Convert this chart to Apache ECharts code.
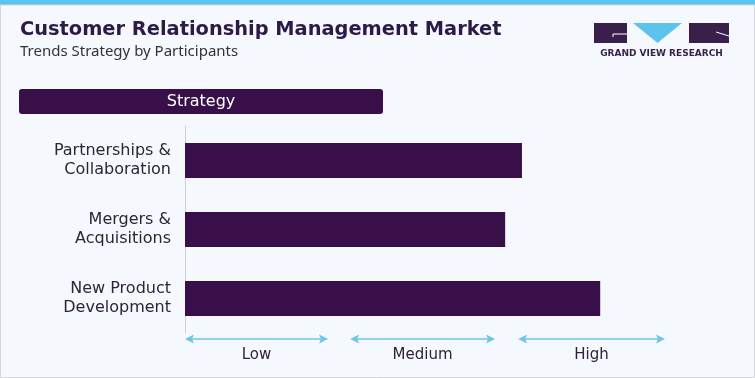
<!DOCTYPE html>
<html>
<head>
<meta charset="utf-8">
<script src="https://cdn.jsdelivr.net/npm/echarts@6/dist/echarts.min.js"></script>
<style>
  html, body { margin: 0; padding: 0; background: #f5f9fd; }
  #chart { width: 755px; height: 378px; }
</style>
</head>
<body>
<div id="chart"></div>
<script>
// strategies, top to bottom
var strategies = ['Partnerships &\nCollaboration', 'Mergers &\nAcquisitions', 'New Product\nDevelopment'];
// strategy intensity on a 0-100 scale (Low / Medium / High)
var strategyValues = [70.2, 66.7, 86.5];
// scale bands under the axis
var levelNames = ['Low', 'Medium', 'High'];
var levelStart = [0, 34.4, 69.4];
var levelEnd = [29.8, 64.6, 100];

var chart = echarts.init(document.getElementById('chart'));

var levelData = levelNames.map(function (n, i) {
  return [levelStart[i], levelEnd[i]];
});

var font = '"DejaVu Sans", sans-serif';
var textColor = '#2d2537';

chart.setOption({
  backgroundColor: '#f5f9fd',
  animation: false,
  grid: { left: 185, right: 90, top: 126, bottom: 45 },
  xAxis: {
    type: 'value', min: 0, max: 100,
    show: false
  },
  yAxis: {
    type: 'category',
    data: strategies,
    inverse: true,
    axisLine: { show: true, lineStyle: { color: '#cfcfd4', width: 1 } },
    axisTick: { show: false },
    axisLabel: {
      color: textColor, fontSize: 16, fontFamily: font,
      lineHeight: 19, align: 'right', margin: 14, padding: [9, 0, 0, 0]
    }
  },
  series: [
    {
      type: 'bar',
      data: strategyValues,
      barWidth: 35,
      itemStyle: { color: '#380f48' }
    },
    {
      type: 'custom',
      clip: false,
      data: levelData,
      encode: { x: [0, 1] },
      renderItem: function (params, api) {
        var cs = params.coordSys;
        var y = cs.y + cs.height + 6;
        var x1 = api.coord([api.value(0), 0])[0];
        var x2 = api.coord([api.value(1), 0])[0];
        var c = '#6ec6e8';
        return {
          type: 'group',
          children: [
            { type: 'line', shape: { x1: x1 + 2, y1: y, x2: x2 - 2, y2: y }, style: { stroke: c, lineWidth: 1.4 } },
            { type: 'polygon', shape: { points: [[x1, y], [x1 + 9, y - 4.5], [x1 + 7, y], [x1 + 9, y + 4.5]] }, style: { fill: c } },
            { type: 'polygon', shape: { points: [[x2, y], [x2 - 9, y - 4.5], [x2 - 7, y], [x2 - 9, y + 4.5]] }, style: { fill: c } },
            { type: 'text', style: { text: levelNames[params.dataIndex], x: (x1 + x2) / 2, y: y + 16, align: 'center', verticalAlign: 'middle', fill: textColor, fontSize: 15, fontFamily: font } }
          ]
        };
      }
    }
  ],
  graphic: [
    { type: 'rect', shape: { x: 0, y: 0, width: 755, height: 5 }, style: { fill: '#5cc3ec' } },
    { type: 'rect', shape: { x: 0.5, y: 5, width: 754, height: 372.5 }, style: { fill: 'none', stroke: '#d4d8dd', lineWidth: 1 }, silent: true },
    { type: 'text', left: 20, top: 20, style: { text: 'Customer Relationship Management Market', fill: '#2e1a47', fontSize: 19.4, fontWeight: 'bold', fontFamily: '"DejaVu Sans", sans-serif' } },
    { type: 'text', left: 20, top: 44, style: { text: 'Trends Strategy by Participants', fill: '#333333', fontSize: 15, fontFamily: '"Noto Sans", sans-serif' } },
    { type: 'rect', shape: { x: 19, y: 89, width: 364, height: 25, r: 3 }, style: { fill: '#380f48' } },
    { type: 'text', style: { text: 'Strategy', x: 201, y: 102, align: 'center', verticalAlign: 'middle', fill: '#ffffff', fontSize: 16, fontFamily: font } },
    // logo
    { type: 'rect', shape: { x: 594, y: 23, width: 33, height: 20 }, style: { fill: '#3a1e4c' } },
    { type: 'polyline', shape: { points: [[627, 34], [613, 34], [613, 37]] }, style: { stroke: '#ffffff', lineWidth: 1, fill: 'none' } },
    { type: 'polygon', shape: { points: [[633, 23], [682, 23], [657.5, 43]] }, style: { fill: '#5cc3ec' } },
    { type: 'rect', shape: { x: 689, y: 23, width: 40, height: 20 }, style: { fill: '#3a1e4c' } },
    { type: 'polyline', shape: { points: [[716, 32], [729, 36]] }, style: { stroke: '#ffffff', lineWidth: 1, fill: 'none' } },
    { type: 'text', style: { text: 'GRAND VIEW RESEARCH', x: 661.5, y: 54, align: 'center', verticalAlign: 'middle', fill: '#3a1e4c', fontSize: 9, fontWeight: 'bold', fontFamily: '"DejaVu Sans", sans-serif' } }
  ]
});
</script>
</body>
</html>
